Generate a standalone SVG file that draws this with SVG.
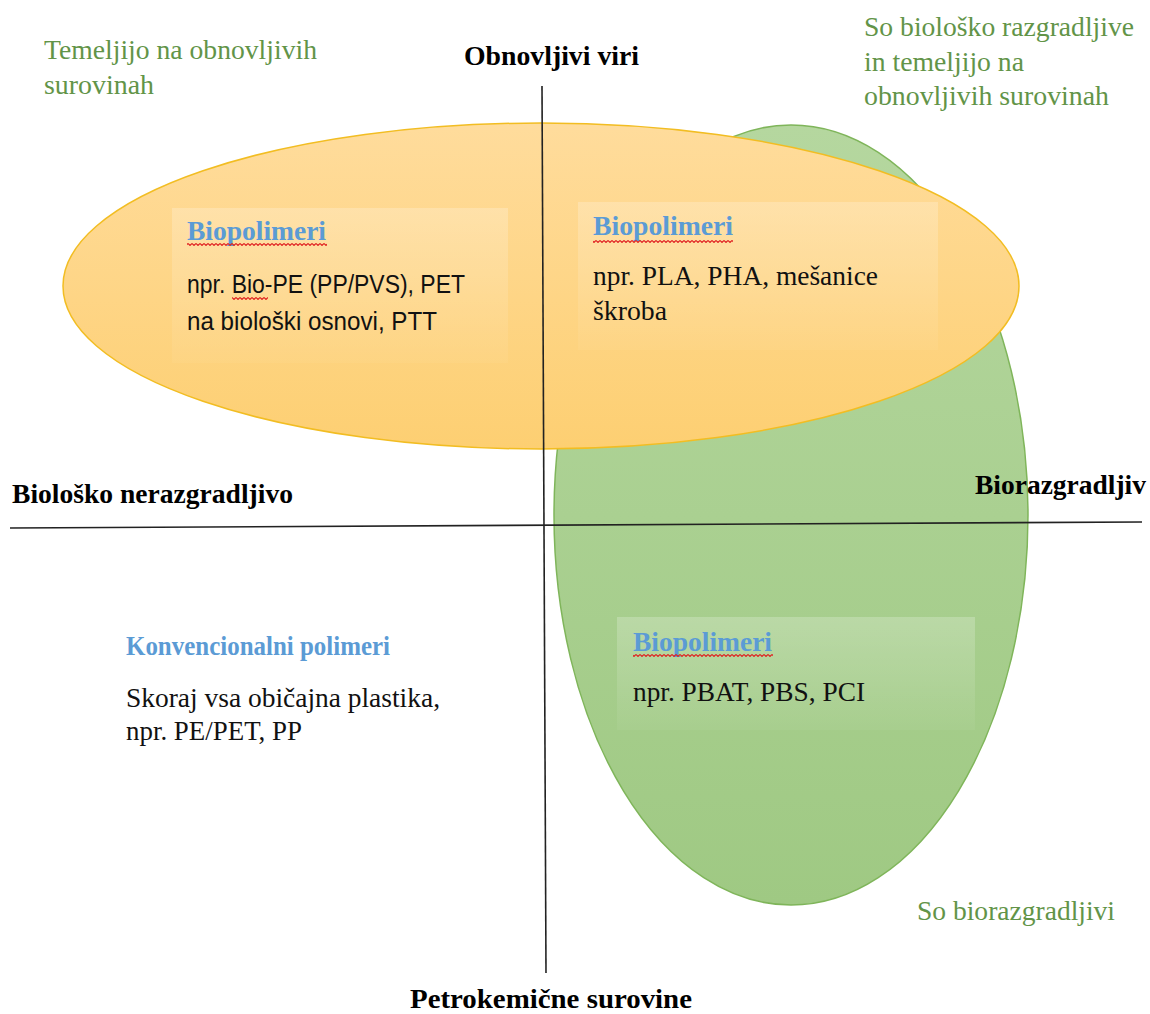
<svg xmlns="http://www.w3.org/2000/svg" width="1150" height="1014" viewBox="0 0 1150 1014">
<defs>
<linearGradient id="gGreen" x1="0" y1="0" x2="0" y2="1">
<stop offset="0" stop-color="#b5d79f"/>
<stop offset="1" stop-color="#9fc983"/>
</linearGradient>
<linearGradient id="gOrange" x1="0" y1="0" x2="0" y2="1">
<stop offset="0" stop-color="#ffdc9c"/>
<stop offset="1" stop-color="#fdcf72"/>
</linearGradient>
<linearGradient id="gBox" x1="0" y1="0" x2="0" y2="1">
<stop offset="0" stop-color="#ffffff" stop-opacity="0.22"/>
<stop offset="1" stop-color="#ffffff" stop-opacity="0.04"/>
</linearGradient>
<pattern id="wave" x="0" y="0" width="4" height="3" patternUnits="userSpaceOnUse">
<path d="M0 0.5 L2 2.5 L4 0.5" fill="none" stroke="#e02020" stroke-width="1.1"/>
</pattern>
<style>
.serif{font-family:"Liberation Serif","Times New Roman",serif;font-size:28px}
.sans{font-family:"Liberation Sans",Arial,sans-serif;font-size:25px;fill:#111}
.bold{font-weight:bold;fill:#000;font-size:27px}
.blue{font-weight:bold;fill:#5b9bd5}
.green{fill:#629448}
.body{fill:#111}
.axis{stroke:#222;stroke-width:1.6;fill:none}
.squig{fill:url(#wave)}
.box{fill:url(#gBox)}
</style>
</defs>
<rect width="1150" height="1014" fill="#ffffff"/>
<g id="green-ellipse">
<ellipse cx="791" cy="515" rx="237" ry="390" fill="url(#gGreen)" stroke="#7fb55a" stroke-width="1.5"/>
</g>
<g id="orange-ellipse">
<ellipse cx="541" cy="286" rx="478" ry="163" fill="url(#gOrange)" stroke="#f2bd22" stroke-width="1.5"/>
</g>
<g id="axes">
<line class="axis" x1="542" y1="86" x2="546" y2="973"/>
<line class="axis" x1="10" y1="528" x2="1142" y2="522"/>
</g>
<g id="box1">
<rect class="box" x="172" y="208" width="336" height="155"/>
<text class="serif blue" x="187" y="240" textLength="139" lengthAdjust="spacingAndGlyphs">Biopolimeri</text>
<rect class="squig" x="187" y="243" width="140" height="3"/>
<text class="sans" x="187" y="293" textLength="278" lengthAdjust="spacingAndGlyphs">npr. Bio-PE (PP/PVS), PET</text>
<rect class="squig" x="232" y="297" width="36" height="3"/>
<text class="sans" x="187" y="330" textLength="250" lengthAdjust="spacingAndGlyphs">na biološki osnovi, PTT</text>
</g>
<g id="box2">
<rect class="box" x="578" y="202" width="360" height="148"/>
<text class="serif blue" x="593" y="235" textLength="140" lengthAdjust="spacingAndGlyphs">Biopolimeri</text>
<rect class="squig" x="593" y="240" width="140" height="3"/>
<text class="serif body" x="593" y="285" textLength="285" lengthAdjust="spacingAndGlyphs">npr. PLA, PHA, mešanice</text>
<text class="serif body" x="593" y="320" textLength="74" lengthAdjust="spacingAndGlyphs">škroba</text>
</g>
<g id="box3">
<rect class="box" x="617" y="617" width="358" height="113"/>
<text class="serif blue" x="633" y="651" textLength="139" lengthAdjust="spacingAndGlyphs">Biopolimeri</text>
<rect class="squig" x="633" y="654" width="140" height="3"/>
<text class="serif body" x="633" y="701" textLength="232" lengthAdjust="spacingAndGlyphs">npr. PBAT, PBS, PCI</text>
</g>
<g id="conventional">
<text class="serif blue" x="126" y="655" textLength="264" lengthAdjust="spacingAndGlyphs">Konvencionalni polimeri</text>
<text class="serif body" x="126" y="707" textLength="314" lengthAdjust="spacingAndGlyphs">Skoraj vsa običajna plastika,</text>
<text class="serif body" x="126" y="740" textLength="176" lengthAdjust="spacingAndGlyphs">npr. PE/PET, PP</text>
</g>
<g id="axis-labels">
<text class="serif bold" x="464" y="65" textLength="175" lengthAdjust="spacingAndGlyphs">Obnovljivi viri</text>
<text class="serif bold" x="12" y="503" textLength="281" lengthAdjust="spacingAndGlyphs">Biološko nerazgradljivo</text>
<text class="serif bold" x="975" y="494" textLength="171" lengthAdjust="spacingAndGlyphs">Biorazgradljiv</text>
<text class="serif bold" x="410" y="1008" textLength="282" lengthAdjust="spacingAndGlyphs">Petrokemične surovine</text>
</g>
<g id="green-labels">
<text class="serif green" x="44" y="59" textLength="273" lengthAdjust="spacingAndGlyphs">Temeljijo na obnovljivih</text>
<text class="serif green" x="44" y="94" textLength="110" lengthAdjust="spacingAndGlyphs">surovinah</text>
<text class="serif green" x="864" y="36" textLength="270" lengthAdjust="spacingAndGlyphs">So biološko razgradljive</text>
<text class="serif green" x="864" y="71" textLength="160" lengthAdjust="spacingAndGlyphs">in temeljijo na</text>
<text class="serif green" x="864" y="105" textLength="245" lengthAdjust="spacingAndGlyphs">obnovljivih surovinah</text>
<text class="serif green" x="917" y="920" textLength="198" lengthAdjust="spacingAndGlyphs">So biorazgradljivi</text>
</g>
</svg>
